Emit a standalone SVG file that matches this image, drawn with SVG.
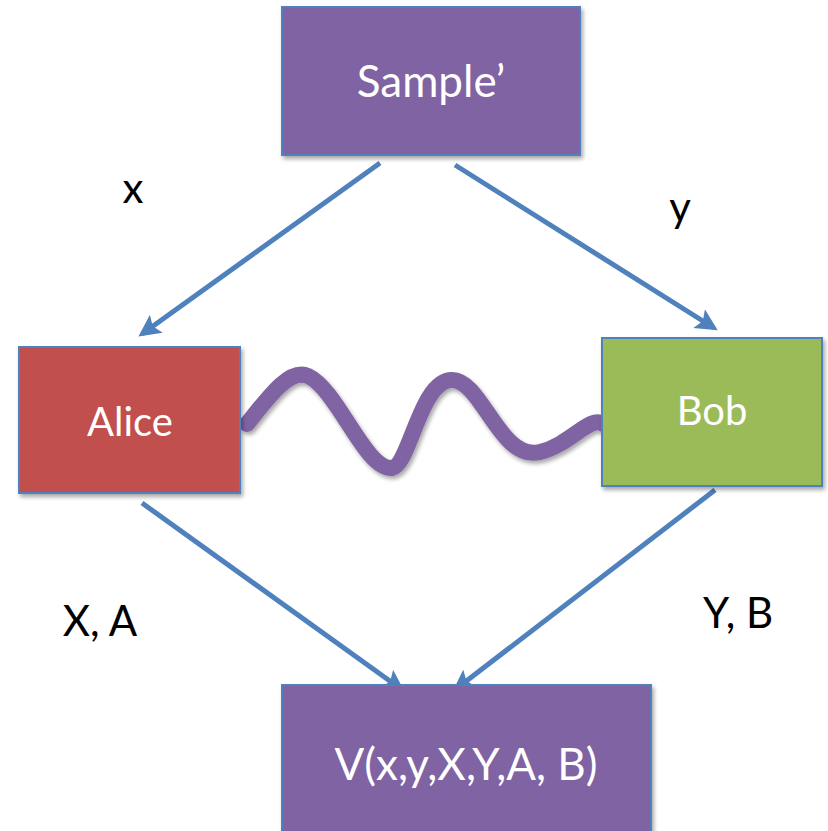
<svg xmlns="http://www.w3.org/2000/svg" width="828" height="831" viewBox="0 0 828 831">
<style>
.box{stroke:#4f81bd;stroke-width:2;filter:url(#sh)}
.bt{font-family:Lato,"Open Sans","Liberation Sans",sans-serif;fill:#fff;text-anchor:middle}
.lb{font-family:Lato,"Open Sans","Liberation Sans",sans-serif;fill:#000;font-size:42px;text-anchor:middle}
.ar{stroke:#4f81bd;stroke-width:5;fill:none;marker-end:url(#ah)}
</style>
<defs>
<marker id="ah" viewBox="0 0 10 10" refX="8" refY="5" markerWidth="4.4" markerHeight="4.4" orient="auto" markerUnits="strokeWidth">
<path d="M0,0 L10,5 L0,10 L2,5 Z" fill="#4f81bd"/>
</marker>
<filter id="sh" x="-10%" y="-10%" width="130%" height="130%">
<feGaussianBlur in="SourceAlpha" stdDeviation="2"/>
<feOffset dx="2" dy="3"/>
<feComponentTransfer><feFuncA type="linear" slope="0.35"/></feComponentTransfer>
<feMerge><feMergeNode/><feMergeNode in="SourceGraphic"/></feMerge>
</filter>
</defs>
<rect width="828" height="831" fill="#fff"/>
<g id="connectors">
<line class="ar" x1="380" y1="163" x2="142" y2="334"/>
<line class="ar" x1="455" y1="165" x2="714" y2="328"/>
<line class="ar" x1="142" y1="503" x2="401" y2="689"/>
<line class="ar" x1="715" y1="490" x2="456" y2="689"/>
<path d="M247,424 C270,395 290,368 308,376 C338,390 365,470 392,468 C410,465 420,380 452,380 C482,380 500,462 540,452 C570,445 590,415 603,424" stroke="#8064a2" stroke-width="16" fill="none" stroke-linecap="round" filter="url(#sh)"/>
</g>
<g id="sample">
<rect class="box" x="282" y="7" width="298" height="148" fill="#8064a2"/>
<text class="bt" x="431" y="97" font-size="44">Sample’</text>
</g>
<g id="alice">
<rect class="box" x="19" y="347" width="221" height="146" fill="#c0504d"/>
<text class="bt" x="130" y="436" font-size="40">Alice</text>
</g>
<g id="bob">
<rect class="box" x="602" y="338" width="220" height="148" fill="#9bbb59"/>
<text class="bt" x="712" y="425" font-size="40">Bob</text>
</g>
<g id="v">
<rect class="box" x="282" y="685" width="369" height="150" fill="#8064a2"/>
<text class="bt" x="466" y="780" font-size="44">V(x,y,X,Y,A, B)</text>
</g>
<g id="labels">
<text class="lb" x="133" y="203">x</text>
<text class="lb" x="680" y="222">y</text>
<text class="lb" x="100" y="636">X, A</text>
<text class="lb" x="738" y="628">Y, B</text>
</g>
</svg>
